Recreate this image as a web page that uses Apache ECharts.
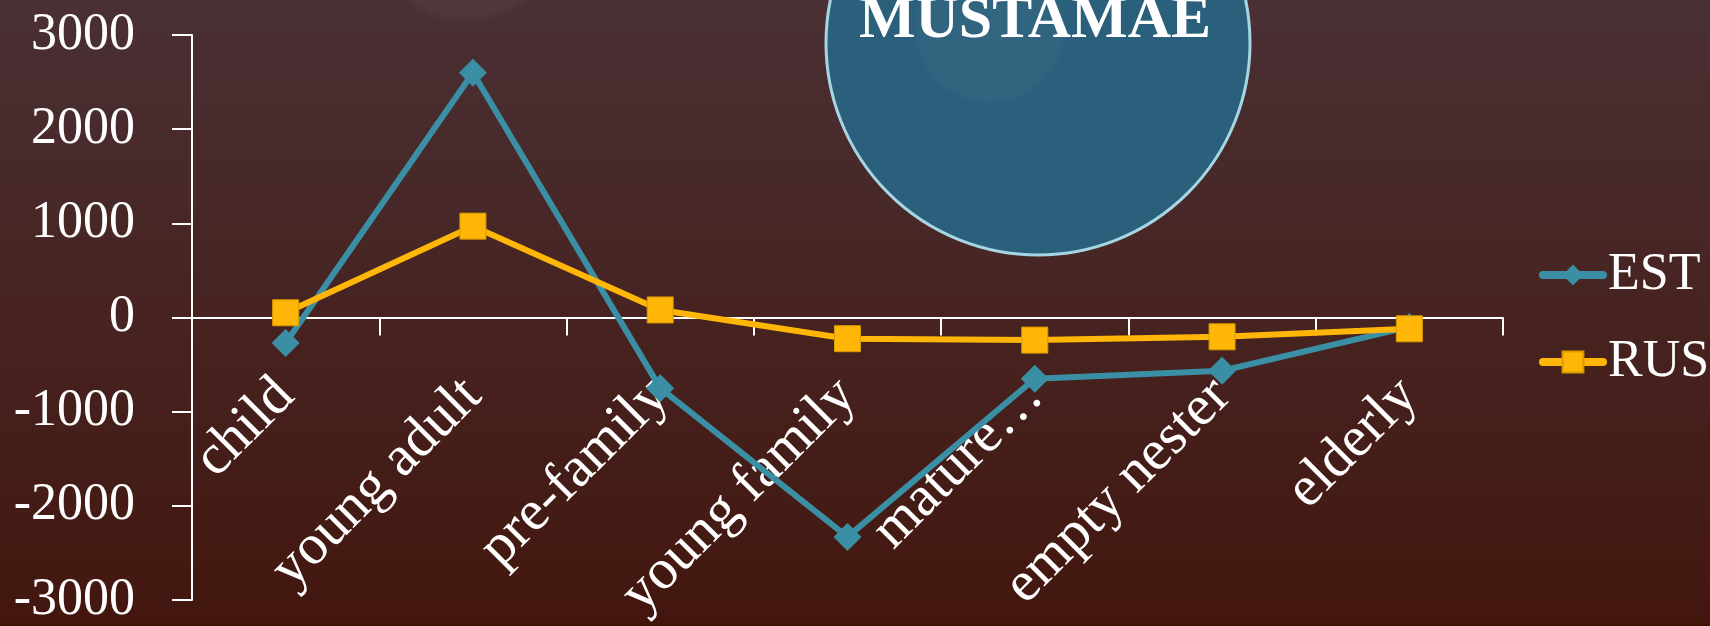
<!DOCTYPE html>
<html>
<head>
<meta charset="utf-8">
<script src="https://cdn.jsdelivr.net/npm/echarts@6/dist/echarts.min.js"></script>
<style>
  html, body { margin: 0; padding: 0; }
  #main { width: 1710px; height: 626px; }
</style>
</head>
<body>
<div id="main"></div>
<script>
// categories (mature... is cut off in the original)
var categories = ['child', 'young adult', 'pre-family', 'young family', 'mature\u2026', 'empty nester', 'elderly'];
var estValues = [-270, 2600, -750, -2330, -650, -565, -100];
var rusValues = [50, 970, 80, -225, -240, -205, -120];
var yTicks = { min: -3000, max: 3000, step: 1000 };

var serif = '"Liberation Serif", "DejaVu Serif", serif';
var chart = echarts.init(document.getElementById('main'));

// grid geometry, x axis sits on the zero line
var gridTop = 35, gridBottom = 26, plotH = 626 - gridTop - gridBottom;
var zeroOffset = -plotH * (0 - yTicks.min) / (yTicks.max - yTicks.min);

var option = {
    backgroundColor: {
        type: 'linear', x: 0, y: 0, x2: 0, y2: 1,
        colorStops: [
            { offset: 0, color: '#4a3034' },
            { offset: 0.98, color: '#43170f' },
            { offset: 1, color: '#401306' }
        ]
    },
    animation: false,
    textStyle: { fontFamily: serif },
    graphic: [
        // faint circle top-left
        {
            type: 'circle', z: 0, silent: true,
            shape: { cx: 466, cy: -76, r: 101 },
            style: {
                fill: {
                    type: 'radial', x: 0.5, y: 0.5, r: 0.5,
                    colorStops: [
                        { offset: 0, color: 'rgba(255,255,255,0.05)' },
                        { offset: 0.9, color: 'rgba(255,255,255,0.04)' },
                        { offset: 1, color: 'rgba(255,255,255,0)' }
                    ]
                }
            }
        },
        // big blue circle
        {
            type: 'circle', z: 0, silent: true,
            shape: { cx: 1038, cy: 43, r: 212 },
            style: { fill: '#2b607c', stroke: '#a6d6e3', lineWidth: 3 }
        },
        {
            type: 'circle', z: 0, silent: true,
            shape: { cx: 990, cy: 28, r: 78 },
            style: {
                fill: {
                    type: 'radial', x: 0.5, y: 0.5, r: 0.5,
                    colorStops: [
                        { offset: 0, color: 'rgba(255,255,255,0.03)' },
                        { offset: 0.9, color: 'rgba(255,255,255,0.025)' },
                        { offset: 1, color: 'rgba(255,255,255,0)' }
                    ]
                }
            }
        },
        {
            type: 'text', z: 1, silent: true,
            style: {
                text: 'MUSTAMAE',
                x: 1035, y: 51,
                align: 'center', verticalAlign: 'bottom',
                fill: '#ffffff',
                font: 'bold 60px ' + serif
            }
        }
    ],
    legend: {
        orient: 'vertical',
        left: 1534,
        top: 240,
        itemWidth: 60,
        itemHeight: 26,
        itemGap: 27,
        data: ['EST', 'RUS'],
        lineStyle: { width: 8, cap: 'round' },
        textStyle: { color: '#ffffff', fontSize: 52, lineHeight: 60, fontFamily: serif }
    },
    grid: {
        left: 192,
        right: 207,
        top: gridTop,
        bottom: gridBottom,
        outerBoundsMode: 'none'
    },
    xAxis: {
        type: 'category',
        data: categories,
        boundaryGap: true,
        position: 'bottom',
        offset: zeroOffset,
        axisLine: { onZero: false, lineStyle: { color: '#ffffff', width: 2 } },
        axisTick: { show: true, length: 18, lineStyle: { color: '#ffffff', width: 2 } },
        axisLabel: {
            show: true,
            rotate: 45,
            interval: 0,
            hideOverlap: false,
            margin: 70,
            color: '#ffffff',
            fontSize: 57,
            fontFamily: serif
        }
    },
    yAxis: {
        type: 'value',
        min: yTicks.min,
        max: yTicks.max,
        interval: yTicks.step,
        axisLine: { show: true, lineStyle: { color: '#ffffff', width: 2 } },
        axisTick: { show: true, length: 20, lineStyle: { color: '#ffffff', width: 2 } },
        splitLine: { show: false },
        axisLabel: {
            margin: 57,
            color: '#ffffff',
            fontSize: 52,
            fontFamily: serif,
            formatter: function (v) { return String(v); }
        }
    },
    series: [
        {
            name: 'EST',
            type: 'line',
            data: estValues,
            symbol: 'diamond',
            symbolSize: 28,
            lineStyle: { color: '#3a8fa5', width: 6 },
            itemStyle: { color: '#3a8fa5' },
            z: 3
        },
        {
            name: 'RUS',
            type: 'line',
            data: rusValues,
            symbol: 'rect',
            symbolSize: 26,
            lineStyle: { color: '#ffb607', width: 6 },
            itemStyle: { color: '#ffb607', borderColor: '#d99a00', borderWidth: 1 },
            z: 4
        }
    ]
};

chart.setOption(option);
</script>
</body>
</html>
